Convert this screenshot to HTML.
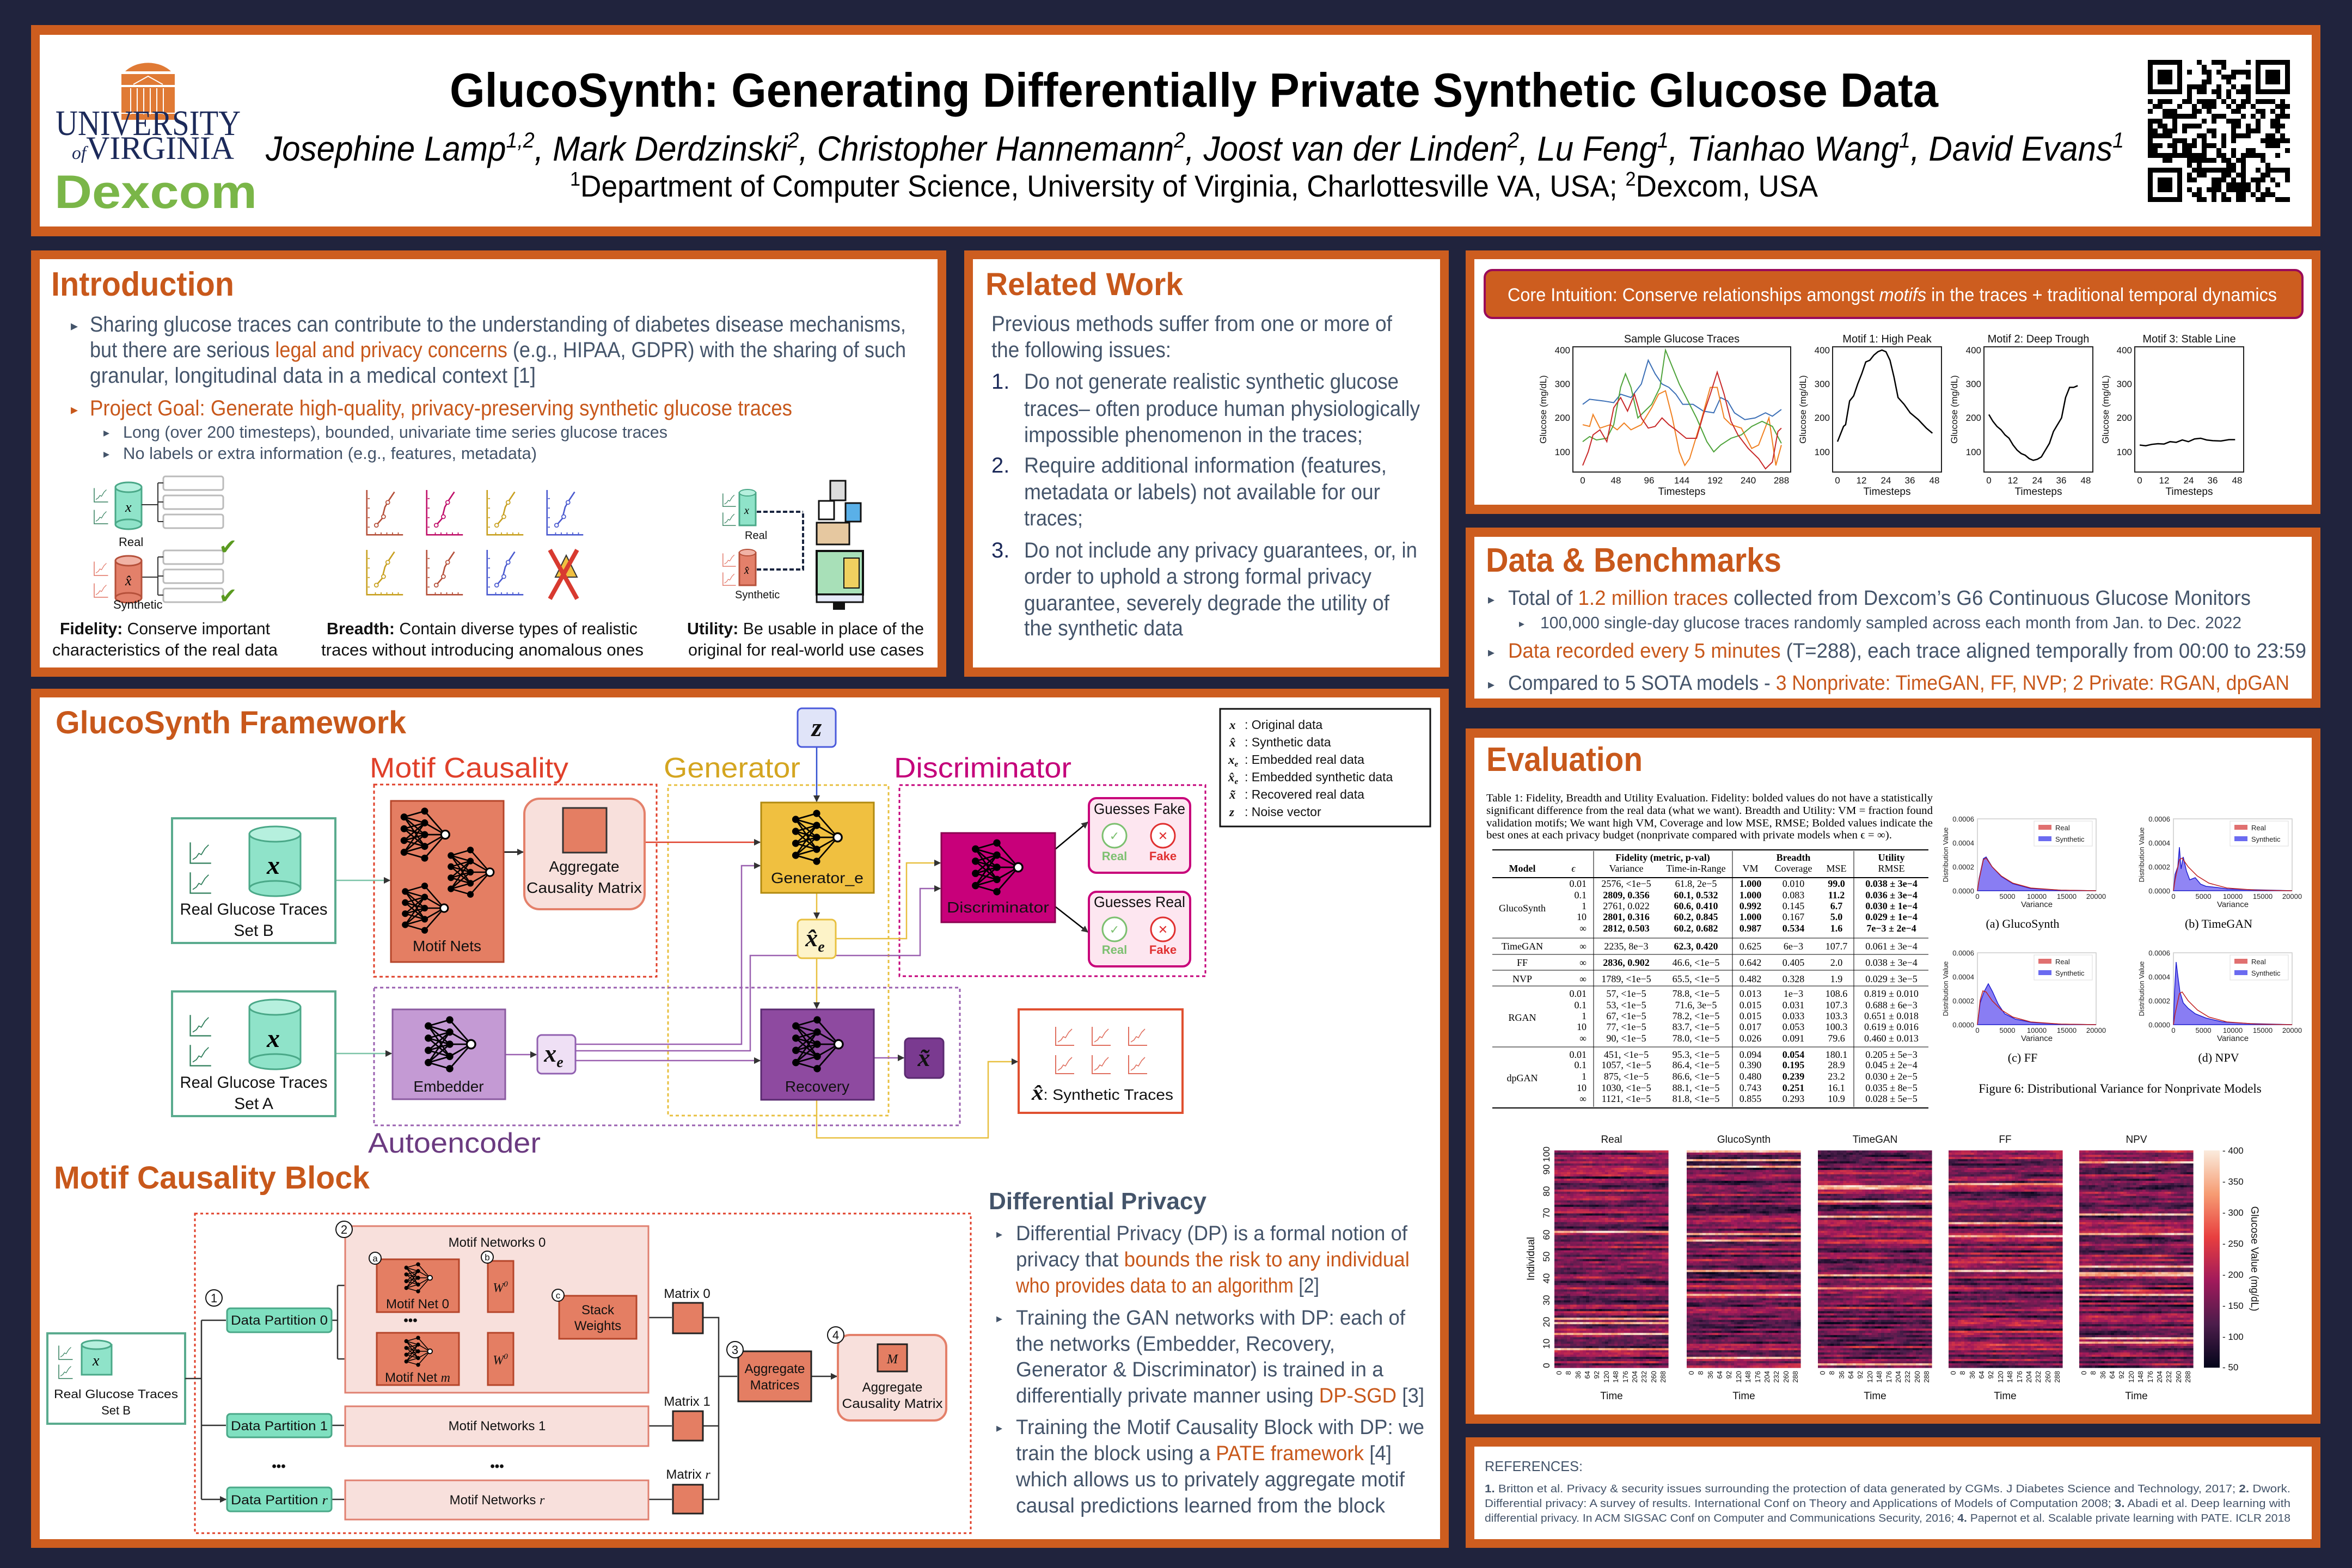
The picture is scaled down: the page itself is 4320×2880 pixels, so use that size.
<!DOCTYPE html>
<html><head><meta charset="utf-8"><style>
html,body{margin:0;padding:0;background:#20233d;}
svg{display:block;}
.b{font-family:"Liberation Sans",sans-serif;fill:#44546a;}
.s{font-family:"Liberation Serif",serif;fill:#000;}
.h{font-family:"Liberation Sans",sans-serif;font-weight:bold;fill:#c8581b;}
.o{fill:#c8581b;}
.k{font-family:"Liberation Sans",sans-serif;fill:#111;}
</style></head><body>
<svg width="4320" height="2880" viewBox="0 0 4320 2880" xmlns="http://www.w3.org/2000/svg">
<defs>
<marker id="ah" viewBox="0 0 10 10" refX="9" refY="5" markerWidth="5" markerHeight="5" orient="auto"><path d="M0,0L10,5L0,10z" fill="#333"/></marker>
<symbol id="nn" viewBox="0 0 100 100"><g stroke="#000" stroke-width="2.5" fill="none">
<path d="M15,20L50,30M15,20L50,50M15,20L50,70M15,40L50,30M15,40L50,50M15,40L50,70M15,60L50,30M15,60L50,50M15,60L50,70M15,80L50,30M15,80L50,50M15,80L50,70M50,30L85,50M50,50L85,50M50,70L85,50M15,20L50,10M15,80L50,90M50,10L85,50M50,90L85,50"/></g>
<g fill="#000"><circle cx="15" cy="20" r="6"/><circle cx="15" cy="40" r="6"/><circle cx="15" cy="60" r="6"/><circle cx="15" cy="80" r="6"/><circle cx="50" cy="10" r="6"/><circle cx="50" cy="30" r="6"/><circle cx="50" cy="50" r="6"/><circle cx="50" cy="70" r="6"/><circle cx="50" cy="90" r="6"/></g><circle cx="85" cy="50" r="7" fill="#fff" stroke="#000" stroke-width="3"/></symbol>
<symbol id="ch" viewBox="0 0 40 40"><path d="M4,2V36H38" fill="none" stroke="currentColor" stroke-width="2"/><path d="M8,30L14,26L18,20L22,22L28,12L34,6" fill="none" stroke="currentColor" stroke-width="1.6"/></symbol>
<symbol id="gr" viewBox="0 0 80 100"><path d="M2,2V96H78" fill="none" stroke="currentColor" stroke-width="3"/><path d="M4,20h4M4,40h4M4,60h4M4,80h4M20,96v-5M32,96v-5M44,96v-5M56,96v-5M68,96v-5" stroke="currentColor" stroke-width="2"/><path d="M22,76L34,62L40,38L48,24L60,6" fill="none" stroke="currentColor" stroke-width="3"/><circle cx="22" cy="76" r="4" fill="#fff" stroke="currentColor" stroke-width="2"/><circle cx="37" cy="58" r="4" fill="#fff" stroke="currentColor" stroke-width="2"/><circle cx="46" cy="28" r="4" fill="#fff" stroke="currentColor" stroke-width="2"/></symbol>
<linearGradient id="cb" x1="0" y1="0" x2="0" y2="1"><stop offset="0" stop-color="#faebdd"/><stop offset="0.2" stop-color="#f69c73"/><stop offset="0.4" stop-color="#e83f3f"/><stop offset="0.6" stop-color="#a11a5b"/><stop offset="0.8" stop-color="#4c1d4b"/><stop offset="1" stop-color="#03051a"/></linearGradient>
</defs>

<!-- panels -->
<g fill="#cd5d1f">
<rect x="57" y="46" width="4205" height="388"/>
<rect x="57" y="460" width="1681" height="783"/>
<rect x="1771" y="460" width="890" height="783"/>
<rect x="2692" y="460" width="1570" height="484"/>
<rect x="2692" y="969" width="1570" height="331"/>
<rect x="2692" y="1338" width="1570" height="1277"/>
<rect x="2692" y="2640" width="1570" height="203"/>
<rect x="57" y="1265" width="2604" height="1578"/>
</g>
<g fill="#fff">
<rect x="73" y="64" width="4173" height="352"/>
<rect x="73" y="476" width="1649" height="750"/>
<rect x="1787" y="476" width="858" height="750"/>
<rect x="2708" y="476" width="1538" height="451"/>
<rect x="2708" y="986" width="1538" height="297"/>
<rect x="2708" y="1355" width="1538" height="1243"/>
<rect x="2708" y="2657" width="1538" height="170"/>
<rect x="73" y="1281" width="2572" height="1546"/>
</g>

<!-- HEADER -->
<g>
<path d="M230,131 A53,40 0 0 1 314,131 Z" fill="#e07a35"/>
<rect x="223" y="136" width="98" height="20" fill="#e07a35"/>
<path d="M245,155 L272,140 L299,155" stroke="#fff" stroke-width="2" fill="none"/>
<rect x="223" y="160" width="98" height="60" fill="#e07a35"/>
<g stroke="#fff" stroke-width="2"><path d="M240,162V210M252,162V210M264,162V210M276,162V210M288,162V210M300,162V210M223,208H321"/></g>
<text x="102" y="248" font-family="Liberation Serif,serif" font-size="66" fill="#1c2a5a" textLength="340" lengthAdjust="spacingAndGlyphs">UNIVERSITY</text>
<text x="132" y="292" font-family="Liberation Serif,serif" font-size="60" fill="#1c2a5a" textLength="298" lengthAdjust="spacingAndGlyphs"><tspan font-size="34" font-style="italic">of</tspan>VIRGINIA</text>
<text x="100" y="382" font-family="Liberation Sans,sans-serif" font-weight="bold" font-size="86" fill="#7ab648" textLength="372" lengthAdjust="spacingAndGlyphs">Dexcom</text>
</g>
<text x="826" y="196" font-family="Liberation Sans,sans-serif" font-weight="bold" font-size="88" fill="#000" textLength="2734" lengthAdjust="spacingAndGlyphs">GlucoSynth: Generating Differentially Private Synthetic Glucose Data</text>
<text x="488" y="295" font-family="Liberation Sans,sans-serif" font-style="italic" font-size="64" fill="#000" textLength="3413" lengthAdjust="spacingAndGlyphs">Josephine Lamp<tspan font-size="40" dy="-24">1,2</tspan><tspan dy="24">, Mark Derdzinski</tspan><tspan font-size="40" dy="-24">2</tspan><tspan dy="24">, Christopher Hannemann</tspan><tspan font-size="40" dy="-24">2</tspan><tspan dy="24">, Joost van der Linden</tspan><tspan font-size="40" dy="-24">2</tspan><tspan dy="24">, Lu Feng</tspan><tspan font-size="40" dy="-24">1</tspan><tspan dy="24">, Tianhao Wang</tspan><tspan font-size="40" dy="-24">1</tspan><tspan dy="24">, David Evans</tspan><tspan font-size="40" dy="-24">1</tspan></text>
<text x="1047" y="361" font-family="Liberation Sans,sans-serif" font-size="56" fill="#000" textLength="2292" lengthAdjust="spacingAndGlyphs"><tspan font-size="36" dy="-20">1</tspan><tspan dy="20">Department of Computer Science, University of Virginia, Charlottesville VA, USA; </tspan><tspan font-size="36" dy="-20">2</tspan><tspan dy="20">Dexcom, USA</tspan></text>
<g id="qr"></g>

<!-- INTRO -->
<text x="94" y="543" class="h" font-size="62" textLength="336" lengthAdjust="spacingAndGlyphs">Introduction</text>
<g class="b" font-size="40">
<text x="130" y="607" font-size="26">▸</text>
<text x="165" y="609" textLength="1499" lengthAdjust="spacingAndGlyphs">Sharing glucose traces can contribute to the understanding of diabetes disease mechanisms,</text>
<text x="165" y="656" textLength="1499" lengthAdjust="spacingAndGlyphs">but there are serious <tspan class="o">legal and privacy concerns</tspan> (e.g., HIPAA, GDPR) with the sharing of such</text>
<text x="165" y="703" textLength="819" lengthAdjust="spacingAndGlyphs">granular, longitudinal data in a medical context [1]</text>
<text x="130" y="761" font-size="26" class="o">▸</text>
<text x="165" y="763" class="o" textLength="1290" lengthAdjust="spacingAndGlyphs">Project Goal: Generate high-quality, privacy-preserving synthetic glucose traces</text>
<text x="190" y="802" font-size="22">▸</text>
<text x="226" y="804" font-size="31" textLength="1000" lengthAdjust="spacingAndGlyphs">Long (over 200 timesteps), bounded, univariate time series glucose traces</text>
<text x="190" y="841" font-size="22">▸</text>
<text x="226" y="843" font-size="31" textLength="760" lengthAdjust="spacingAndGlyphs">No labels or extra information (e.g., features, metadata)</text>
</g>
<!-- intro icons -->
<g>
<use href="#ch" x="170" y="895" width="30" height="30" color="#2e7d5a"/><use href="#ch" x="170" y="935" width="30" height="30" color="#2e7d5a"/>
<rect x="212" y="895" width="48" height="68" fill="#8fe3c9" stroke="#4aa888" stroke-width="3"/><ellipse cx="236" cy="895" rx="24" ry="9" fill="#b6f0de" stroke="#4aa888" stroke-width="3"/><ellipse cx="236" cy="963" rx="24" ry="9" fill="#8fe3c9" stroke="#4aa888" stroke-width="3"/>
<text x="230" y="940" font-family="Liberation Serif,serif" font-style="italic" font-size="26">x</text>
<text x="218" y="1003" class="k" font-size="22">Real</text>
<g fill="#fff" stroke="#bbb" stroke-width="3"><rect x="300" y="875" width="110" height="25" rx="4"/><rect x="300" y="910" width="110" height="25" rx="4"/><rect x="300" y="945" width="110" height="25" rx="4"/><rect x="300" y="1011" width="110" height="25" rx="4"/><rect x="300" y="1046" width="110" height="25" rx="4"/><rect x="300" y="1081" width="110" height="25" rx="4"/></g>
<path d="M260,927H290M290,887V958M290,887H300M290,922H300M290,958H300M260,1060H290M290,1023V1093M290,1023H300M290,1058H300M290,1093H300" stroke="#333" stroke-width="2" fill="none"/>
<use href="#ch" x="170" y="1030" width="30" height="30" color="#e07060"/><use href="#ch" x="170" y="1070" width="30" height="30" color="#e07060"/>
<rect x="212" y="1030" width="48" height="68" fill="#e3806a" stroke="#b5503a" stroke-width="3"/><ellipse cx="236" cy="1030" rx="24" ry="9" fill="#f1b3a6" stroke="#b5503a" stroke-width="3"/><ellipse cx="236" cy="1098" rx="24" ry="9" fill="#e3806a" stroke="#b5503a" stroke-width="3"/>
<text x="230" y="1075" font-family="Liberation Serif,serif" font-style="italic" font-size="26">x̂</text>
<text x="208" y="1118" class="k" font-size="22">Synthetic</text>
<text x="402" y="1018" font-size="40" fill="#5a9a20">✔</text><text x="402" y="1108" font-size="40" fill="#5a9a20">✔</text>
<use href="#gr" x="672" y="898" width="70" height="88" color="#b5503a"/>
<use href="#gr" x="782" y="898" width="70" height="88" color="#c0106a"/>
<use href="#gr" x="893" y="898" width="70" height="88" color="#c8a020"/>
<use href="#gr" x="1003" y="898" width="70" height="88" color="#4a5ad0"/>
<use href="#gr" x="672" y="1008" width="70" height="88" color="#c8a020"/>
<use href="#gr" x="782" y="1008" width="70" height="88" color="#b5503a"/>
<use href="#gr" x="893" y="1008" width="70" height="88" color="#4a5ad0"/>
<path d="M1040,1020L1060,1060H1020Z" fill="#f0c040" stroke="#333" stroke-width="2"/>
<path d="M1010,1010L1060,1100M1060,1010L1010,1100" stroke="#d83a30" stroke-width="8"/>
<use href="#ch" x="1325" y="905" width="28" height="28" color="#2e7d5a"/><use href="#ch" x="1325" y="940" width="28" height="28" color="#2e7d5a"/>
<rect x="1358" y="905" width="30" height="60" fill="#8fe3c9" stroke="#4aa888" stroke-width="3"/><ellipse cx="1373" cy="905" rx="15" ry="6" fill="#b6f0de" stroke="#4aa888" stroke-width="2"/>
<text x="1367" y="944" font-family="Liberation Serif,serif" font-style="italic" font-size="20">x</text>
<text x="1368" y="990" class="k" font-size="20">Real</text>
<use href="#ch" x="1325" y="1015" width="28" height="28" color="#e07060"/><use href="#ch" x="1325" y="1050" width="28" height="28" color="#e07060"/>
<rect x="1358" y="1015" width="30" height="60" fill="#e3806a" stroke="#b5503a" stroke-width="3"/><ellipse cx="1373" cy="1015" rx="15" ry="6" fill="#f1b3a6" stroke="#b5503a" stroke-width="2"/>
<text x="1367" y="1054" font-family="Liberation Serif,serif" font-style="italic" font-size="20">x̂</text>
<text x="1350" y="1099" class="k" font-size="20">Synthetic</text>
<path d="M1390,940H1475M1390,1046H1475V940" stroke="#1a2540" stroke-width="4" fill="none" stroke-dasharray="8,4"/>
<rect x="1525" y="883" width="28" height="36" fill="#ddd" stroke="#111" stroke-width="3"/>
<rect x="1504" y="920" width="28" height="34" fill="#fff" stroke="#111" stroke-width="3"/>
<rect x="1553" y="924" width="28" height="34" fill="#5ab0e8" stroke="#111" stroke-width="3"/>
<rect x="1500" y="960" width="60" height="40" fill="#e6c8a0" stroke="#111" stroke-width="3"/>
<rect x="1500" y="1012" width="85" height="80" fill="#a8e0b8" stroke="#111" stroke-width="4"/>
<rect x="1550" y="1025" width="28" height="55" fill="#f0d060" stroke="#111" stroke-width="2"/>
<rect x="1500" y="1092" width="85" height="14" fill="#e6eaf8" stroke="#111" stroke-width="3"/>
<rect x="1530" y="1106" width="22" height="14" fill="#111"/>
</g>
<g class="k" font-size="31">
<text x="110" y="1165" textLength="386" lengthAdjust="spacingAndGlyphs"><tspan font-weight="bold">Fidelity:</tspan> Conserve important</text>
<text x="96" y="1204" textLength="414" lengthAdjust="spacingAndGlyphs">characteristics of the real data</text>
<text x="600" y="1165" textLength="571" lengthAdjust="spacingAndGlyphs"><tspan font-weight="bold">Breadth:</tspan> Contain diverse types of realistic</text>
<text x="590" y="1204" textLength="592" lengthAdjust="spacingAndGlyphs">traces without introducing anomalous ones</text>
<text x="1262" y="1165" textLength="435" lengthAdjust="spacingAndGlyphs"><tspan font-weight="bold">Utility:</tspan> Be usable in place of the</text>
<text x="1264" y="1204" textLength="433" lengthAdjust="spacingAndGlyphs">original for real-world use cases</text>
</g>

<!-- RELATED WORK -->
<text x="1810" y="542" class="h" font-size="58" textLength="363" lengthAdjust="spacingAndGlyphs">Related Work</text>
<g class="b" font-size="40">
<text x="1821" y="608" textLength="736" lengthAdjust="spacingAndGlyphs">Previous methods suffer from one or more of</text>
<text x="1821" y="656" textLength="330" lengthAdjust="spacingAndGlyphs">the following issues:</text>
<text x="1821" y="714" fill="#1c2a5a">1.</text>
<text x="1881" y="714" textLength="688" lengthAdjust="spacingAndGlyphs">Do not generate realistic synthetic glucose</text>
<text x="1881" y="764" textLength="727" lengthAdjust="spacingAndGlyphs">traces– often produce human physiologically</text>
<text x="1881" y="812" textLength="622" lengthAdjust="spacingAndGlyphs">impossible phenomenon in the traces;</text>
<text x="1821" y="868" fill="#1c2a5a">2.</text>
<text x="1881" y="868" textLength="666" lengthAdjust="spacingAndGlyphs">Require additional information (features,</text>
<text x="1881" y="917" textLength="654" lengthAdjust="spacingAndGlyphs">metadata or labels) not available for our</text>
<text x="1881" y="965" textLength="108" lengthAdjust="spacingAndGlyphs">traces;</text>
<text x="1821" y="1024" fill="#1c2a5a">3.</text>
<text x="1881" y="1024" textLength="722" lengthAdjust="spacingAndGlyphs">Do not include any privacy guarantees, or, in</text>
<text x="1881" y="1072" textLength="638" lengthAdjust="spacingAndGlyphs">order to uphold a strong formal privacy</text>
<text x="1881" y="1121" textLength="671" lengthAdjust="spacingAndGlyphs">guarantee, severely degrade the utility of</text>
<text x="1881" y="1167" textLength="292" lengthAdjust="spacingAndGlyphs">the synthetic data</text>
</g>

<!-- CORE INTUITION -->
<rect x="2727" y="496" width="1502" height="88" rx="14" fill="#cd5d1f" stroke="#9a0a5a" stroke-width="4"/>
<text x="2769" y="553" font-family="Liberation Sans,sans-serif" font-size="34" fill="#fff" textLength="1413" lengthAdjust="spacingAndGlyphs">Core Intuition: Conserve relationships amongst <tspan font-style="italic">motifs</tspan> in the traces + traditional temporal dynamics</text>
<g fill="none" stroke="#222" stroke-width="2">
<rect x="2889" y="637" width="400" height="230"/>
<rect x="3366" y="637" width="200" height="230"/>
<rect x="3644" y="637" width="200" height="230"/>
<rect x="3921" y="637" width="200" height="230"/>
</g>
<g class="k" font-size="17">
<text x="3089" y="629" text-anchor="middle" font-size="20">Sample Glucose Traces</text>
<text x="3466" y="629" text-anchor="middle" font-size="20">Motif 1: High Peak</text>
<text x="3744" y="629" text-anchor="middle" font-size="20">Motif 2: Deep Trough</text>
<text x="4021" y="629" text-anchor="middle" font-size="20">Motif 3: Stable Line</text>
<g text-anchor="end">
<text x="2884" y="649">400</text><text x="2884" y="711">300</text><text x="2884" y="773">200</text><text x="2884" y="836">100</text>
<text x="3361" y="649">400</text><text x="3361" y="711">300</text><text x="3361" y="773">200</text><text x="3361" y="836">100</text>
<text x="3639" y="649">400</text><text x="3639" y="711">300</text><text x="3639" y="773">200</text><text x="3639" y="836">100</text>
<text x="3916" y="649">400</text><text x="3916" y="711">300</text><text x="3916" y="773">200</text><text x="3916" y="836">100</text>
</g>
<g text-anchor="middle">
<text x="2907" y="888">0</text><text x="2968" y="888">48</text><text x="3029" y="888">96</text><text x="3089" y="888">144</text><text x="3150" y="888">192</text><text x="3211" y="888">240</text><text x="3272" y="888">288</text>
<text x="3375" y="888">0</text><text x="3419" y="888">12</text><text x="3464" y="888">24</text><text x="3508" y="888">36</text><text x="3553" y="888">48</text>
<text x="3653" y="888">0</text><text x="3697" y="888">12</text><text x="3742" y="888">24</text><text x="3786" y="888">36</text><text x="3831" y="888">48</text>
<text x="3930" y="888">0</text><text x="3975" y="888">12</text><text x="4020" y="888">24</text><text x="4064" y="888">36</text><text x="4109" y="888">48</text>
<text x="3089" y="909" font-size="19">Timesteps</text><text x="3466" y="909" font-size="19">Timesteps</text><text x="3744" y="909" font-size="19">Timesteps</text><text x="4021" y="909" font-size="19">Timesteps</text>
<text transform="translate(2840,752) rotate(-90)" font-size="17">Glucose (mg/dL)</text>
<text transform="translate(3317,752) rotate(-90)" font-size="17">Glucose (mg/dL)</text>
<text transform="translate(3595,752) rotate(-90)" font-size="17">Glucose (mg/dL)</text>
<text transform="translate(3873,752) rotate(-90)" font-size="17">Glucose (mg/dL)</text>
</g></g>
<g transform="translate(2907,643) scale(1.267,0.623)" fill="none" stroke-width="2">
<polyline vector-effect="non-scaling-stroke" stroke="#3b6fb6" points="0,160 10,145 30,150 45,155 55,130 70,140 85,100 95,30 105,70 115,100 125,110 135,130 145,160 160,160 175,180 190,185 200,140 210,150 220,185 235,205 250,200 265,185 275,195 288,175"/>
<polyline vector-effect="non-scaling-stroke" stroke="#f08020" points="0,220 10,225 15,190 25,230 40,220 50,235 60,215 70,235 85,220 100,170 110,130 120,120 130,200 140,300 148,340 155,320 170,220 185,110 195,110 205,200 215,220 230,230 245,290 255,280 270,200 280,340 288,280"/>
<polyline vector-effect="non-scaling-stroke" stroke="#4ea33a" points="0,270 10,255 20,265 35,260 45,220 55,110 62,70 70,110 80,200 90,180 100,160 112,110 120,0 130,50 140,100 150,140 165,200 180,270 190,300 200,280 215,260 230,250 245,225 260,210 275,225 288,275"/>
<polyline vector-effect="non-scaling-stroke" stroke="#c82828" points="0,340 8,300 15,250 25,235 35,270 45,170 55,140 65,180 75,130 85,200 95,230 105,225 115,200 125,220 135,235 150,260 165,260 175,190 185,130 195,65 205,130 215,210 225,250 240,290 255,320 265,350 275,330 283,240 288,230"/>
</g>
<g fill="none" stroke="#000" stroke-width="2.5">
<polyline vector-effect="non-scaling-stroke" transform="translate(3375,643) scale(3.708,0.623)" points="0,270 3,225 4,220 6,150 8,135 10,100 12,70 14,35 16,30 18,15 20,5 22,0 24,5 26,30 28,80 30,140 33,160 36,185 40,205 44,230 47,245"/>
<polyline vector-effect="non-scaling-stroke" transform="translate(3653,643) scale(3.708,0.623)" points="0,190 2,210 4,225 6,235 8,250 10,260 12,280 14,295 16,305 18,310 20,320 22,325 24,322 26,315 28,295 30,275 32,240 34,220 36,200 38,140 40,110 42,110 44,105"/>
<polyline vector-effect="non-scaling-stroke" transform="translate(3930,643) scale(3.73,0.623)" points="0,280 3,282 6,278 9,276 12,277 15,270 18,272 21,265 24,270 27,262 30,260 33,265 36,267 40,268 44,264 47,264"/>
</g>

<!-- DATA & BENCHMARKS -->
<text x="2729" y="1050" class="h" font-size="62" textLength="543" lengthAdjust="spacingAndGlyphs">Data &amp; Benchmarks</text>
<g class="b" font-size="38">
<text x="2733" y="1109" font-size="24">▸</text>
<text x="2770" y="1111" textLength="1364" lengthAdjust="spacingAndGlyphs">Total of <tspan class="o">1.2 million traces</tspan> collected from Dexcom’s G6 Continuous Glucose Monitors</text>
<text x="2790" y="1152" font-size="20">▸</text>
<text x="2829" y="1154" font-size="31" textLength="1288" lengthAdjust="spacingAndGlyphs">100,000 single-day glucose traces randomly sampled across each month from Jan. to Dec. 2022</text>
<text x="2733" y="1206" font-size="24">▸</text>
<text x="2770" y="1208" textLength="1466" lengthAdjust="spacingAndGlyphs"><tspan class="o">Data recorded every 5 minutes</tspan> (T=288), each trace aligned temporally from 00:00 to 23:59</text>
<text x="2733" y="1265" font-size="24">▸</text>
<text x="2770" y="1267" textLength="1435" lengthAdjust="spacingAndGlyphs">Compared to 5 SOTA models - <tspan class="o">3 Nonprivate: TimeGAN, FF, NVP; 2 Private: RGAN, dpGAN</tspan></text>
</g>

<!-- EVALUATION -->
<text x="2730" y="1416" class="h" font-size="62" textLength="287" lengthAdjust="spacingAndGlyphs">Evaluation</text>
<g class="s" font-size="20">
<text x="2730" y="1472" textLength="820" lengthAdjust="spacingAndGlyphs">Table 1: Fidelity, Breadth and Utility Evaluation. Fidelity: bolded values do not have a statistically</text>
<text x="2730" y="1495" textLength="820" lengthAdjust="spacingAndGlyphs">significant difference from the real data (what we want). Breadth and Utility: VM = fraction found</text>
<text x="2730" y="1518" textLength="820" lengthAdjust="spacingAndGlyphs">validation motifs; We want high VM, Coverage and low MSE, RMSE; Bolded values indicate the</text>
<text x="2730" y="1540" textLength="745" lengthAdjust="spacingAndGlyphs">best ones at each privacy budget (nonprivate compared with private models when ϵ = ∞).</text>
</g>
<g stroke="#000">
<path d="M2741,1561H3542M2741,1612H3542M2741,2035H3542" stroke-width="2"/>
<path d="M2741,1723H3542M2741,1753H3542M2741,1782H3542M2741,1811H3542M2741,1923H3542" stroke-width="1"/>
<path d="M2927,1563V1721M3182,1563V1721M3405,1563V1721M2927,1617V2033M3182,1617V2033M3405,1617V2033" stroke-width="1"/>
</g>
<g class="s" font-size="18" text-anchor="middle">
<text x="3054" y="1581" font-weight="bold">Fidelity (metric, p-val)</text>
<text x="3294" y="1581" font-weight="bold">Breadth</text>
<text x="3474" y="1581" font-weight="bold">Utility</text>
<text x="2796" y="1601" font-weight="bold">Model</text><text x="2890" y="1601" font-style="italic">ϵ</text>
<text x="2987" y="1601">Variance</text><text x="3115" y="1601">Time-in-Range</text><text x="3215" y="1601">VM</text><text x="3294" y="1601">Coverage</text><text x="3373" y="1601">MSE</text><text x="3474" y="1601">RMSE</text>
<text x="2796" y="1674">GlucoSynth</text><text x="2796" y="1744">TimeGAN</text><text x="2796" y="1774">FF</text><text x="2796" y="1804">NVP</text><text x="2796" y="1875">RGAN</text><text x="2796" y="1986">dpGAN</text>
</g>
<g class="s" font-size="18">
<g text-anchor="end">
<text x="2914" y="1629">0.01</text><text x="2914" y="1650">0.1</text><text x="2914" y="1670">1</text><text x="2914" y="1690">10</text><text x="2914" y="1711">∞</text>
<text x="2914" y="1744">∞</text><text x="2914" y="1774">∞</text><text x="2914" y="1804">∞</text>
<text x="2914" y="1831">0.01</text><text x="2914" y="1852">0.1</text><text x="2914" y="1872">1</text><text x="2914" y="1892">10</text><text x="2914" y="1913">∞</text>
<text x="2914" y="1943">0.01</text><text x="2914" y="1962">0.1</text><text x="2914" y="1983">1</text><text x="2914" y="2004">10</text><text x="2914" y="2024">∞</text>
</g>
<g text-anchor="middle">
<text x="2987" y="1629">2576, &lt;1e−5</text><text x="3115" y="1629">61.8, 2e−5</text><text x="3215" y="1629" font-weight="bold">1.000</text><text x="3294" y="1629">0.010</text><text x="3373" y="1629" font-weight="bold">99.0</text><text x="3474" y="1629" font-weight="bold">0.038 ± 3e−4</text>
<g font-weight="bold"><text x="2987" y="1650">2809, 0.356</text><text x="3115" y="1650">60.1, 0.532</text><text x="3215" y="1650">1.000</text><text x="3373" y="1650">11.2</text><text x="3474" y="1650">0.036 ± 3e−4</text></g><text x="3294" y="1650">0.083</text>
<text x="2987" y="1670">2761, 0.022</text><g font-weight="bold"><text x="3115" y="1670">60.6, 0.410</text><text x="3215" y="1670">0.992</text><text x="3373" y="1670">6.7</text><text x="3474" y="1670">0.030 ± 1e−4</text></g><text x="3294" y="1670">0.145</text>
<g font-weight="bold"><text x="2987" y="1690">2801, 0.316</text><text x="3115" y="1690">60.2, 0.845</text><text x="3215" y="1690">1.000</text><text x="3373" y="1690">5.0</text><text x="3474" y="1690">0.029 ± 1e−4</text></g><text x="3294" y="1690">0.167</text>
<g font-weight="bold"><text x="2987" y="1711">2812, 0.503</text><text x="3115" y="1711">60.2, 0.682</text><text x="3215" y="1711">0.987</text><text x="3294" y="1711">0.534</text><text x="3373" y="1711">1.6</text><text x="3474" y="1711">7e−3 ± 2e−4</text></g>
<text x="2987" y="1744">2235, 8e−3</text><text x="3115" y="1744" font-weight="bold">62.3, 0.420</text><text x="3215" y="1744">0.625</text><text x="3294" y="1744">6e−3</text><text x="3373" y="1744">107.7</text><text x="3474" y="1744">0.061 ± 3e−4</text>
<text x="2987" y="1774" font-weight="bold">2836, 0.902</text><text x="3115" y="1774">46.6, &lt;1e−5</text><text x="3215" y="1774">0.642</text><text x="3294" y="1774">0.405</text><text x="3373" y="1774">2.0</text><text x="3474" y="1774">0.038 ± 3e−4</text>
<text x="2987" y="1804">1789, &lt;1e−5</text><text x="3115" y="1804">65.5, &lt;1e−5</text><text x="3215" y="1804">0.482</text><text x="3294" y="1804">0.328</text><text x="3373" y="1804">1.9</text><text x="3474" y="1804">0.029 ± 3e−5</text>
<text x="2987" y="1831">57, &lt;1e−5</text><text x="3115" y="1831">78.8, &lt;1e−5</text><text x="3215" y="1831">0.013</text><text x="3294" y="1831">1e−3</text><text x="3373" y="1831">108.6</text><text x="3474" y="1831">0.819 ± 0.010</text>
<text x="2987" y="1852">53, &lt;1e−5</text><text x="3115" y="1852">71.6, 3e−5</text><text x="3215" y="1852">0.015</text><text x="3294" y="1852">0.031</text><text x="3373" y="1852">107.3</text><text x="3474" y="1852">0.688 ± 6e−3</text>
<text x="2987" y="1872">67, &lt;1e−5</text><text x="3115" y="1872">78.2, &lt;1e−5</text><text x="3215" y="1872">0.015</text><text x="3294" y="1872">0.033</text><text x="3373" y="1872">103.3</text><text x="3474" y="1872">0.651 ± 0.018</text>
<text x="2987" y="1892">77, &lt;1e−5</text><text x="3115" y="1892">83.7, &lt;1e−5</text><text x="3215" y="1892">0.017</text><text x="3294" y="1892">0.053</text><text x="3373" y="1892">100.3</text><text x="3474" y="1892">0.619 ± 0.016</text>
<text x="2987" y="1913">90, &lt;1e−5</text><text x="3115" y="1913">78.0, &lt;1e−5</text><text x="3215" y="1913">0.026</text><text x="3294" y="1913">0.091</text><text x="3373" y="1913">79.6</text><text x="3474" y="1913">0.460 ± 0.013</text>
<text x="2987" y="1943">451, &lt;1e−5</text><text x="3115" y="1943">95.3, &lt;1e−5</text><text x="3215" y="1943">0.094</text><text x="3294" y="1943" font-weight="bold">0.054</text><text x="3373" y="1943">180.1</text><text x="3474" y="1943">0.205 ± 5e−3</text>
<text x="2987" y="1962">1057, &lt;1e−5</text><text x="3115" y="1962">86.4, &lt;1e−5</text><text x="3215" y="1962">0.390</text><text x="3294" y="1962" font-weight="bold">0.195</text><text x="3373" y="1962">28.9</text><text x="3474" y="1962">0.045 ± 2e−4</text>
<text x="2987" y="1983">875, &lt;1e−5</text><text x="3115" y="1983">86.6, &lt;1e−5</text><text x="3215" y="1983">0.480</text><text x="3294" y="1983" font-weight="bold">0.239</text><text x="3373" y="1983">23.2</text><text x="3474" y="1983">0.030 ± 2e−5</text>
<text x="2987" y="2004">1030, &lt;1e−5</text><text x="3115" y="2004">88.1, &lt;1e−5</text><text x="3215" y="2004">0.743</text><text x="3294" y="2004" font-weight="bold">0.251</text><text x="3373" y="2004">16.1</text><text x="3474" y="2004">0.035 ± 8e−5</text>
<text x="2987" y="2024">1121, &lt;1e−5</text><text x="3115" y="2024">81.8, &lt;1e−5</text><text x="3215" y="2024">0.855</text><text x="3294" y="2024">0.293</text><text x="3373" y="2024">10.9</text><text x="3474" y="2024">0.028 ± 5e−5</text>
</g></g>

<!-- distribution plots -->
<g id="dist">
<g transform="translate(3632,1636)">
<rect x="0" y="-132" width="218" height="132" fill="none" stroke="#ccc" stroke-width="1.5"/>
<polygon points="0,0 3,-22 11,-59 16,-62 27,-44 44,-26 65,-13 98,-4 153,-1 218,0" fill="#6b5cf0" fill-opacity="0.8" stroke="#2020d0" stroke-width="1.5"/>
<polyline points="0,0 3,-20 11,-57 16,-60 27,-44 44,-27 65,-14 98,-5 153,-1 218,0" fill="none" stroke="#c02020" stroke-width="1.5"/>
</g>
<g transform="translate(3992,1636)">
<rect x="0" y="-132" width="218" height="132" fill="none" stroke="#ccc" stroke-width="1.5"/>
<polygon points="0,0 3,-30 8,-44 11,-80 14,-40 18,-62 24,-36 30,-20 40,-24 50,-12 60,-8 80,-6 100,-3 140,-2 218,0" fill="#6b5cf0" fill-opacity="0.75" stroke="#2020d0" stroke-width="1.5"/>
<polyline points="0,0 3,-20 11,-57 16,-60 27,-44 44,-27 65,-14 98,-5 153,-1 218,0" fill="none" stroke="#c02020" stroke-width="1.5"/>
</g>
<g transform="translate(3632,1882)">
<rect x="0" y="-132" width="218" height="132" fill="none" stroke="#ccc" stroke-width="1.5"/>
<polygon points="0,0 5,-40 12,-60 20,-75 28,-60 38,-38 50,-20 70,-10 100,-4 153,-1 218,0" fill="#6b5cf0" fill-opacity="0.8" stroke="#2020d0" stroke-width="1.5"/>
<polyline points="0,0 5,-45 10,-62 16,-60 27,-44 44,-27 65,-14 98,-5 153,-1 218,0" fill="none" stroke="#c02020" stroke-width="1.5"/>
</g>
<g transform="translate(3992,1882)">
<rect x="0" y="-132" width="218" height="132" fill="none" stroke="#ccc" stroke-width="1.5"/>
<polygon points="0,0 2,-60 5,-115 8,-90 12,-60 18,-40 27,-30 40,-20 60,-12 90,-5 140,-2 218,0" fill="#6b5cf0" fill-opacity="0.8" stroke="#2020d0" stroke-width="1.5"/>
<polyline points="0,0 3,-20 11,-57 16,-60 27,-44 44,-27 65,-14 98,-5 153,-1 218,0" fill="none" stroke="#c02020" stroke-width="1.5"/>
</g>
</g>
<g font-family="Liberation Sans,sans-serif" font-size="13" fill="#222">
<g text-anchor="end">
<text x="3626" y="1509">0.0006</text><text x="3626" y="1553">0.0004</text><text x="3626" y="1597">0.0002</text><text x="3626" y="1641">0.0000</text>
<text x="3986" y="1509">0.0006</text><text x="3986" y="1553">0.0004</text><text x="3986" y="1597">0.0002</text><text x="3986" y="1641">0.0000</text>
<text x="3626" y="1755">0.0006</text><text x="3626" y="1799">0.0004</text><text x="3626" y="1843">0.0002</text><text x="3626" y="1887">0.0000</text>
<text x="3986" y="1755">0.0006</text><text x="3986" y="1799">0.0004</text><text x="3986" y="1843">0.0002</text><text x="3986" y="1887">0.0000</text>
</g>
<g text-anchor="middle">
<text x="3632" y="1651">0</text><text x="3687" y="1651">5000</text><text x="3741" y="1651">10000</text><text x="3796" y="1651">15000</text><text x="3850" y="1651">20000</text>
<text x="3992" y="1651">0</text><text x="4047" y="1651">5000</text><text x="4101" y="1651">10000</text><text x="4156" y="1651">15000</text><text x="4210" y="1651">20000</text>
<text x="3632" y="1897">0</text><text x="3687" y="1897">5000</text><text x="3741" y="1897">10000</text><text x="3796" y="1897">15000</text><text x="3850" y="1897">20000</text>
<text x="3992" y="1897">0</text><text x="4047" y="1897">5000</text><text x="4101" y="1897">10000</text><text x="4156" y="1897">15000</text><text x="4210" y="1897">20000</text>
<text x="3741" y="1666" font-size="15">Variance</text><text x="4101" y="1666" font-size="15">Variance</text><text x="3741" y="1912" font-size="15">Variance</text><text x="4101" y="1912" font-size="15">Variance</text>
<text transform="translate(3578,1570) rotate(-90)" font-size="13">Distribution Value</text><text transform="translate(3938,1570) rotate(-90)" font-size="13">Distribution Value</text>
<text transform="translate(3578,1816) rotate(-90)" font-size="13">Distribution Value</text><text transform="translate(3938,1816) rotate(-90)" font-size="13">Distribution Value</text>
</g>
<g>
<rect x="3736" y="1508" width="107" height="46" fill="#fff" stroke="#ddd"/><rect x="3744" y="1515" width="24" height="9" fill="#e07070"/><rect x="3744" y="1536" width="24" height="9" fill="#6b6bf0"/><text x="3775" y="1525">Real</text><text x="3775" y="1546">Synthetic</text>
<rect x="4096" y="1508" width="107" height="46" fill="#fff" stroke="#ddd"/><rect x="4104" y="1515" width="24" height="9" fill="#e07070"/><rect x="4104" y="1536" width="24" height="9" fill="#6b6bf0"/><text x="4135" y="1525">Real</text><text x="4135" y="1546">Synthetic</text>
<rect x="3736" y="1754" width="107" height="46" fill="#fff" stroke="#ddd"/><rect x="3744" y="1761" width="24" height="9" fill="#e07070"/><rect x="3744" y="1782" width="24" height="9" fill="#6b6bf0"/><text x="3775" y="1771">Real</text><text x="3775" y="1792">Synthetic</text>
<rect x="4096" y="1754" width="107" height="46" fill="#fff" stroke="#ddd"/><rect x="4104" y="1761" width="24" height="9" fill="#e07070"/><rect x="4104" y="1782" width="24" height="9" fill="#6b6bf0"/><text x="4135" y="1771">Real</text><text x="4135" y="1792">Synthetic</text>
</g></g>
<g class="s" font-size="22" text-anchor="middle">
<text x="3715" y="1704">(a) GlucoSynth</text><text x="4075" y="1704">(b) TimeGAN</text>
<text x="3715" y="1950">(c) FF</text><text x="4075" y="1950">(d) NPV</text>
<text x="3894" y="2007" font-size="23">Figure 6: Distributional Variance for Nonprivate Models</text>
</g>

<!-- heatmaps -->
<g id="hmaps"></g>
<rect x="4048" y="2113" width="29" height="399" fill="url(#cb)"/>
<g font-family="Liberation Sans,sans-serif" font-size="19" fill="#111">
<g text-anchor="middle">
<text x="2960" y="2099">Real</text><text x="3203" y="2099">GlucoSynth</text><text x="3444" y="2099">TimeGAN</text><text x="3683" y="2099">FF</text><text x="3924" y="2099">NPV</text>
<text x="2960" y="2570">Time</text><text x="3203" y="2570">Time</text><text x="3444" y="2570">Time</text><text x="3683" y="2570">Time</text><text x="3924" y="2570">Time</text>
<text transform="translate(2818,2312) rotate(-90)">Individual</text>
<text transform="translate(4135,2312) rotate(90)">Glucose Value (mg/dL)</text>
</g>
<g font-size="17">
<text x="4082" y="2119">- 400</text><text x="4082" y="2176">- 350</text><text x="4082" y="2233">- 300</text><text x="4082" y="2290">- 250</text><text x="4082" y="2347">- 200</text><text x="4082" y="2404">- 150</text><text x="4082" y="2461">- 100</text><text x="4082" y="2517">- 50</text>
</g>
<g font-size="17" text-anchor="middle" id="yt">
<text transform="translate(2846,2508) rotate(-90)">0</text><text transform="translate(2846,2468) rotate(-90)">10</text><text transform="translate(2846,2428) rotate(-90)">20</text><text transform="translate(2846,2388) rotate(-90)">30</text><text transform="translate(2846,2348) rotate(-90)">40</text><text transform="translate(2846,2308) rotate(-90)">50</text><text transform="translate(2846,2268) rotate(-90)">60</text><text transform="translate(2846,2228) rotate(-90)">70</text><text transform="translate(2846,2188) rotate(-90)">80</text><text transform="translate(2846,2148) rotate(-90)">90</text><text transform="translate(2846,2120) rotate(-90)">100</text>
</g>
<g font-size="13" text-anchor="end">
<g transform="translate(2855,2518)"><text transform="translate(13,0) rotate(-90)">0</text><text transform="translate(30,0) rotate(-90)">8</text><text transform="translate(48,0) rotate(-90)">36</text><text transform="translate(65,0) rotate(-90)">64</text><text transform="translate(82,0) rotate(-90)">92</text><text transform="translate(100,0) rotate(-90)">120</text><text transform="translate(117,0) rotate(-90)">148</text><text transform="translate(135,0) rotate(-90)">176</text><text transform="translate(152,0) rotate(-90)">204</text><text transform="translate(169,0) rotate(-90)">232</text><text transform="translate(187,0) rotate(-90)">260</text><text transform="translate(204,0) rotate(-90)">288</text></g>
<g transform="translate(3098,2518)"><text transform="translate(13,0) rotate(-90)">0</text><text transform="translate(30,0) rotate(-90)">8</text><text transform="translate(48,0) rotate(-90)">36</text><text transform="translate(65,0) rotate(-90)">64</text><text transform="translate(82,0) rotate(-90)">92</text><text transform="translate(100,0) rotate(-90)">120</text><text transform="translate(117,0) rotate(-90)">148</text><text transform="translate(135,0) rotate(-90)">176</text><text transform="translate(152,0) rotate(-90)">204</text><text transform="translate(169,0) rotate(-90)">232</text><text transform="translate(187,0) rotate(-90)">260</text><text transform="translate(204,0) rotate(-90)">288</text></g>
<g transform="translate(3339,2518)"><text transform="translate(13,0) rotate(-90)">0</text><text transform="translate(30,0) rotate(-90)">8</text><text transform="translate(48,0) rotate(-90)">36</text><text transform="translate(65,0) rotate(-90)">64</text><text transform="translate(82,0) rotate(-90)">92</text><text transform="translate(100,0) rotate(-90)">120</text><text transform="translate(117,0) rotate(-90)">148</text><text transform="translate(135,0) rotate(-90)">176</text><text transform="translate(152,0) rotate(-90)">204</text><text transform="translate(169,0) rotate(-90)">232</text><text transform="translate(187,0) rotate(-90)">260</text><text transform="translate(204,0) rotate(-90)">288</text></g>
<g transform="translate(3579,2518)"><text transform="translate(13,0) rotate(-90)">0</text><text transform="translate(30,0) rotate(-90)">8</text><text transform="translate(48,0) rotate(-90)">36</text><text transform="translate(65,0) rotate(-90)">64</text><text transform="translate(82,0) rotate(-90)">92</text><text transform="translate(100,0) rotate(-90)">120</text><text transform="translate(117,0) rotate(-90)">148</text><text transform="translate(135,0) rotate(-90)">176</text><text transform="translate(152,0) rotate(-90)">204</text><text transform="translate(169,0) rotate(-90)">232</text><text transform="translate(187,0) rotate(-90)">260</text><text transform="translate(204,0) rotate(-90)">288</text></g>
<g transform="translate(3819,2518)"><text transform="translate(13,0) rotate(-90)">0</text><text transform="translate(30,0) rotate(-90)">8</text><text transform="translate(48,0) rotate(-90)">36</text><text transform="translate(65,0) rotate(-90)">64</text><text transform="translate(82,0) rotate(-90)">92</text><text transform="translate(100,0) rotate(-90)">120</text><text transform="translate(117,0) rotate(-90)">148</text><text transform="translate(135,0) rotate(-90)">176</text><text transform="translate(152,0) rotate(-90)">204</text><text transform="translate(169,0) rotate(-90)">232</text><text transform="translate(187,0) rotate(-90)">260</text><text transform="translate(204,0) rotate(-90)">288</text></g>
</g></g>

<!-- REFERENCES -->
<g class="b" font-size="20">
<text x="2727" y="2702" font-size="26" textLength="180" lengthAdjust="spacingAndGlyphs">REFERENCES:</text>
<text x="2727" y="2741" textLength="1480" lengthAdjust="spacingAndGlyphs"><tspan font-weight="bold">1.</tspan> Britton et al. Privacy &amp; security issues surrounding the protection of data generated by CGMs. J Diabetes Science and Technology, 2017; <tspan font-weight="bold">2.</tspan> Dwork.</text>
<text x="2727" y="2768" textLength="1480" lengthAdjust="spacingAndGlyphs">Differential privacy: A survey of results. International Conf on Theory and Applications of Models of Computation 2008; <tspan font-weight="bold">3.</tspan> Abadi et al. Deep learning with</text>
<text x="2727" y="2795" textLength="1480" lengthAdjust="spacingAndGlyphs">differential privacy. In ACM SIGSAC Conf on Computer and Communications Security, 2016; <tspan font-weight="bold">4.</tspan> Papernot et al. Scalable private learning with PATE. ICLR 2018</text>
</g>

<!-- FRAMEWORK -->
<text x="102" y="1347" class="h" font-size="58" textLength="644" lengthAdjust="spacingAndGlyphs">GlucoSynth Framework</text>
<g font-family="Liberation Sans,sans-serif" font-size="52">
<text x="679" y="1428" fill="#e0402a" textLength="365" lengthAdjust="spacingAndGlyphs">Motif Causality</text>
<text x="1219" y="1428" fill="#d4a520" textLength="251" lengthAdjust="spacingAndGlyphs">Generator</text>
<text x="1642" y="1428" fill="#c4007a" textLength="326" lengthAdjust="spacingAndGlyphs">Discriminator</text>
<text x="676" y="2117" fill="#6b3a80" textLength="317" lengthAdjust="spacingAndGlyphs">Autoencoder</text>
</g>
<rect x="2241" y="1302" width="386" height="216" fill="#fff" stroke="#111" stroke-width="3"/>
<g font-family="Liberation Sans,sans-serif" font-size="23" fill="#111">
<g font-family="Liberation Serif,serif" font-style="italic" font-weight="bold"><text x="2258" y="1339">x</text><text x="2258" y="1371">x̂</text><text x="2256" y="1403">x<tspan font-size="15" dy="5">e</tspan></text><text x="2256" y="1435">x̂<tspan font-size="15" dy="5">e</tspan></text><text x="2258" y="1467">x̃</text><text x="2258" y="1499">z</text></g>
<text x="2286" y="1339">: Original data</text><text x="2286" y="1371">: Synthetic data</text><text x="2286" y="1403">: Embedded real data</text><text x="2286" y="1435">: Embedded synthetic data</text><text x="2286" y="1467">: Recovered real data</text><text x="2286" y="1499">: Noise vector</text>
</g>
<g fill="none" stroke-width="3" stroke-dasharray="6,5">
<rect x="687" y="1441" width="519" height="353" stroke="#e0402a"/>
<rect x="1227" y="1442" width="405" height="607" stroke="#e8c040"/>
<rect x="1652" y="1442" width="562" height="351" stroke="#c4007a"/>
<rect x="687" y="1814" width="1076" height="253" stroke="#9a60b0"/>
</g>
<!-- connectors -->
<g fill="none" stroke-width="2.5" marker-end="url(#ah)">
<path d="M616,1617H716" stroke="#7cc4a8"/>
<path d="M616,1935H719" stroke="#7cc4a8"/>
<path d="M925,1565H961" stroke="#000"/>
<path d="M1184,1547H1396" stroke="#e0402a"/>
<path d="M1500,1372V1472" stroke="#3050d0"/>
<path d="M1500,1640V1687" stroke="#e8c040"/>
<path d="M1535,1724H1665V1585H1727" stroke="#e8c040"/>
<path d="M1500,1760V1852" stroke="#e8c040"/>
<path d="M928,1937H985" stroke="#9a60b0"/>
<path d="M1057,1918H1362V1590H1396" stroke="#9a60b0"/>
<path d="M1057,1930H1378V1755H1690V1632H1727" stroke="#9a60b0"/>
<path d="M1057,1948H1396" stroke="#9a60b0"/>
<path d="M1605,1943H1660" stroke="#9a60b0"/>
<path d="M1500,2020V2090H1815V1950H1869" stroke="#e8c040"/>
<path d="M1938,1560L1998,1510" stroke="#000"/>
<path d="M1938,1665L1998,1712" stroke="#000"/>
</g>
<!-- boxes -->
<rect x="316" y="1503" width="300" height="229" fill="#fff" stroke="#5aab8e" stroke-width="4"/>
<rect x="316" y="1821" width="300" height="229" fill="#fff" stroke="#5aab8e" stroke-width="4"/>
<g>
<use href="#ch" x="345" y="1545" width="45" height="45" color="#2e7d5a"/><use href="#ch" x="345" y="1600" width="45" height="45" color="#2e7d5a"/>
<rect x="458" y="1532" width="94" height="100" fill="#8fe3c9" stroke="#4aa888" stroke-width="3"/><ellipse cx="505" cy="1532" rx="47" ry="14" fill="#b6f0de" stroke="#4aa888" stroke-width="3"/><ellipse cx="505" cy="1632" rx="47" ry="14" fill="#8fe3c9" stroke="#4aa888" stroke-width="3"/>
<text x="490" y="1605" font-family="Liberation Serif,serif" font-style="italic" font-weight="bold" font-size="48">x</text>
<use href="#ch" x="345" y="1862" width="45" height="45" color="#2e7d5a"/><use href="#ch" x="345" y="1917" width="45" height="45" color="#2e7d5a"/>
<rect x="458" y="1850" width="94" height="100" fill="#8fe3c9" stroke="#4aa888" stroke-width="3"/><ellipse cx="505" cy="1850" rx="47" ry="14" fill="#b6f0de" stroke="#4aa888" stroke-width="3"/><ellipse cx="505" cy="1950" rx="47" ry="14" fill="#8fe3c9" stroke="#4aa888" stroke-width="3"/>
<text x="490" y="1923" font-family="Liberation Serif,serif" font-style="italic" font-weight="bold" font-size="48">x</text>
</g>
<g class="k" font-size="30" text-anchor="middle">
<text x="466" y="1680" textLength="271" lengthAdjust="spacingAndGlyphs">Real Glucose Traces</text><text x="466" y="1719">Set B</text>
<text x="466" y="1998" textLength="271" lengthAdjust="spacingAndGlyphs">Real Glucose Traces</text><text x="466" y="2037">Set A</text>
</g>
<rect x="718" y="1471" width="207" height="296" fill="#e47e63" stroke="#b5452a" stroke-width="3"/>
<use href="#nn" x="726" y="1479" width="108" height="108"/><use href="#nn" x="810" y="1551" width="108" height="102"/><use href="#nn" x="726" y="1617" width="108" height="102"/>
<rect x="963" y="1467" width="221" height="203" rx="28" fill="#f8e0dc" stroke="#e4806a" stroke-width="4"/>
<rect x="1034" y="1484" width="80" height="82" fill="#e47e63" stroke="#333" stroke-width="3"/>
<rect x="1465" y="1301" width="70" height="71" rx="8" fill="#e0e4f8" stroke="#4a5adb" stroke-width="3"/>
<rect x="1398" y="1474" width="207" height="166" fill="#f0c040" stroke="#b08a10" stroke-width="3"/>
<use href="#nn" x="1445" y="1482" width="110" height="112"/>
<rect x="1465" y="1689" width="70" height="71" rx="8" fill="#fdf3c8" stroke="#e8c040" stroke-width="3"/>
<rect x="1729" y="1530" width="209" height="164" fill="#c8007a" stroke="#8a0050" stroke-width="3"/>
<use href="#nn" x="1775" y="1537" width="112" height="112"/>
<rect x="2000" y="1466" width="186" height="137" rx="14" fill="#fde6f0" stroke="#c8007a" stroke-width="4"/>
<rect x="2000" y="1638" width="186" height="137" rx="14" fill="#fde6f0" stroke="#c8007a" stroke-width="4"/>
<g stroke-width="3" fill="#fff"><circle cx="2047" cy="1535" r="22" stroke="#7cc070"/><circle cx="2136" cy="1535" r="22" stroke="#e03030"/><circle cx="2047" cy="1707" r="22" stroke="#7cc070"/><circle cx="2136" cy="1707" r="22" stroke="#e03030"/></g>
<g font-family="Liberation Sans,sans-serif" font-size="22" text-anchor="middle"><text x="2047" y="1543" fill="#7cc070">✓</text><text x="2136" y="1543" fill="#e03030">✕</text><text x="2047" y="1715" fill="#7cc070">✓</text><text x="2136" y="1715" fill="#e03030">✕</text></g>
<rect x="721" y="1854" width="207" height="165" fill="#c49ad4" stroke="#8a5aa0" stroke-width="3"/>
<use href="#nn" x="770" y="1862" width="112" height="112"/>
<rect x="987" y="1901" width="70" height="71" rx="8" fill="#efe0f5" stroke="#9060b0" stroke-width="3"/>
<rect x="1398" y="1854" width="207" height="166" fill="#8e4aa0" stroke="#5a2a70" stroke-width="3"/>
<use href="#nn" x="1445" y="1862" width="112" height="112"/>
<rect x="1662" y="1907" width="71" height="73" rx="8" fill="#7a3a90" stroke="#5a2a70" stroke-width="3"/>
<rect x="1871" y="1854" width="301" height="190" fill="#fff" stroke="#e05030" stroke-width="4"/>
<g color="#e07060"><use href="#ch" x="1930" y="1884" width="50" height="40"/><use href="#ch" x="1997" y="1884" width="50" height="40"/><use href="#ch" x="2064" y="1884" width="50" height="40"/><use href="#ch" x="1930" y="1936" width="50" height="40"/><use href="#ch" x="1997" y="1936" width="50" height="40"/><use href="#ch" x="2064" y="1936" width="50" height="40"/></g>
<g class="k" font-size="28" text-anchor="middle">
<text x="821" y="1747">Motif Nets</text>
<text x="1073" y="1601">Aggregate</text><text x="1073" y="1640" textLength="212" lengthAdjust="spacingAndGlyphs">Causality Matrix</text>
<text x="1501" y="1622" textLength="170" lengthAdjust="spacingAndGlyphs">Generator_e</text>
<text x="1833" y="1676" textLength="188" lengthAdjust="spacingAndGlyphs">Discriminator</text>
<text x="2093" y="1495" textLength="168" lengthAdjust="spacingAndGlyphs">Guesses Fake</text>
<text x="2093" y="1666" textLength="168" lengthAdjust="spacingAndGlyphs">Guesses Real</text>
<g font-size="22" font-weight="bold"><text x="2047" y="1580" fill="#7cc070">Real</text><text x="2136" y="1580" fill="#e03030">Fake</text><text x="2047" y="1752" fill="#7cc070">Real</text><text x="2136" y="1752" fill="#e03030">Fake</text></g>
<text x="824" y="2005">Embedder</text>
<text x="1501" y="2005">Recovery</text>
<text x="2025" y="2020" textLength="260" lengthAdjust="spacingAndGlyphs"><tspan font-family="Liberation Serif,serif" font-style="italic" font-weight="bold" font-size="40">x̂</tspan>: Synthetic Traces</text>
</g>
<g font-family="Liberation Serif,serif" font-style="italic" font-weight="bold" text-anchor="middle">
<text x="1500" y="1352" font-size="48" fill="#111">z</text>
<text x="1497" y="1738" font-size="46" fill="#111">x̂<tspan font-size="28" dy="10">e</tspan></text>
<text x="1017" y="1950" font-size="46" fill="#111">x<tspan font-size="28" dy="10">e</tspan></text>
<text x="1697" y="1958" font-size="46" fill="#111">x̃</text>
</g>

<!-- MOTIF CAUSALITY BLOCK -->
<text x="99" y="2183" class="h" font-size="58" textLength="580" lengthAdjust="spacingAndGlyphs">Motif Causality Block</text>
<rect x="358" y="2229" width="1425" height="587" fill="none" stroke="#e0402a" stroke-width="3" stroke-dasharray="5,5"/>
<rect x="87" y="2449" width="253" height="166" fill="#fff" stroke="#5aab8e" stroke-width="4"/>
<use href="#ch" x="105" y="2470" width="30" height="30" color="#2e7d5a"/><use href="#ch" x="105" y="2505" width="30" height="30" color="#2e7d5a"/>
<rect x="150" y="2470" width="55" height="55" fill="#8fe3c9" stroke="#4aa888" stroke-width="3"/><ellipse cx="177" cy="2470" rx="27" ry="8" fill="#b6f0de" stroke="#4aa888" stroke-width="3"/>
<text x="170" y="2508" font-family="Liberation Serif,serif" font-style="italic" font-size="28">x</text>
<g fill="none" stroke="#333" stroke-width="2.5">
<path d="M340,2532H370M370,2425V2754"/>
<path d="M370,2425H415M370,2618H415M370,2754H415" marker-end="url(#ah)"/>
<path d="M609,2425H620M620,2361V2496"/>
<path d="M620,2361H690M620,2496H690M843,2361H894M843,2496H894M990,2420H1025M1169,2420H1234M609,2618H632M1191,2619H1234M609,2754H632M1191,2754H1234M1320,2528H1354M1490,2528H1537" marker-end="url(#ah)"/>
<path d="M943,2361H990V2496H943M1291,2420H1320V2754H1291M1291,2619H1320"/>
</g>
<rect x="417" y="2403" width="192" height="44" rx="6" fill="#7fe0c0" stroke="#4aa888" stroke-width="3"/>
<rect x="417" y="2597" width="192" height="43" rx="6" fill="#7fe0c0" stroke="#4aa888" stroke-width="3"/>
<rect x="417" y="2732" width="192" height="44" rx="6" fill="#7fe0c0" stroke="#4aa888" stroke-width="3"/>
<rect x="634" y="2252" width="557" height="306" fill="#f8e0dc" stroke="#e08070" stroke-width="3"/>
<rect x="634" y="2583" width="557" height="73" fill="#f8e0dc" stroke="#e08070" stroke-width="3"/>
<rect x="634" y="2719" width="557" height="72" fill="#f8e0dc" stroke="#e08070" stroke-width="3"/>
<rect x="692" y="2313" width="151" height="97" fill="#e47e63" stroke="#b5452a" stroke-width="3"/>
<rect x="692" y="2448" width="151" height="96" fill="#e47e63" stroke="#b5452a" stroke-width="3"/>
<use href="#nn" x="737" y="2316" width="62" height="62"/><use href="#nn" x="737" y="2451" width="62" height="62"/>
<rect x="896" y="2316" width="47" height="94" fill="#e47e63" stroke="#b5452a" stroke-width="3"/>
<rect x="896" y="2448" width="47" height="96" fill="#e47e63" stroke="#b5452a" stroke-width="3"/>
<rect x="1027" y="2380" width="142" height="79" fill="#e47e63" stroke="#b5452a" stroke-width="3"/>
<g fill="#e47e63" stroke="#222" stroke-width="3"><rect x="1236" y="2393" width="55" height="56"/><rect x="1236" y="2592" width="55" height="54"/><rect x="1236" y="2727" width="55" height="53"/></g>
<rect x="1356" y="2482" width="134" height="92" fill="#e47e63" stroke="#222" stroke-width="3"/>
<rect x="1539" y="2452" width="199" height="157" rx="22" fill="#f8e0dc" stroke="#e4806a" stroke-width="4"/>
<rect x="1612" y="2469" width="54" height="50" fill="#e47e63" stroke="#222" stroke-width="3"/>
<g fill="#fff" stroke="#111" stroke-width="2"><circle cx="393" cy="2384" r="15"/><circle cx="632" cy="2258" r="15"/><circle cx="1350" cy="2479" r="15"/><circle cx="1535" cy="2452" r="15"/><circle cx="689" cy="2311" r="11"/><circle cx="895" cy="2309" r="11"/><circle cx="1025" cy="2379" r="11"/></g>
<g class="k" text-anchor="middle" font-size="22"><text x="393" y="2392">1</text><text x="632" y="2266">2</text><text x="1350" y="2487">3</text><text x="1535" y="2460">4</text><g font-size="17"><text x="689" y="2317">a</text><text x="895" y="2315">b</text><text x="1025" y="2385">c</text></g></g>
<g class="k" font-size="24" text-anchor="middle">
<text x="513" y="2433" textLength="178" lengthAdjust="spacingAndGlyphs">Data Partition 0</text>
<text x="513" y="2627" textLength="178" lengthAdjust="spacingAndGlyphs">Data Partition 1</text>
<text x="513" y="2763" textLength="178" lengthAdjust="spacingAndGlyphs">Data Partition <tspan font-style="italic" font-family="Liberation Serif,serif">r</tspan></text>
<text x="913" y="2290">Motif Networks 0</text>
<text x="913" y="2627">Motif Networks 1</text>
<text x="913" y="2763">Motif Networks <tspan font-style="italic" font-family="Liberation Serif,serif">r</tspan></text>
<text x="767" y="2403">Motif Net 0</text>
<text x="767" y="2538">Motif Net <tspan font-style="italic" font-family="Liberation Serif,serif">m</tspan></text>
<text x="919" y="2373" font-family="Liberation Serif,serif" font-style="italic">W<tspan font-size="15" dy="-10">0</tspan></text>
<text x="919" y="2506" font-family="Liberation Serif,serif" font-style="italic">W<tspan font-size="15" dy="-10">0</tspan></text>
<text x="1098" y="2414">Stack</text><text x="1098" y="2443">Weights</text>
<text x="1262" y="2384">Matrix 0</text><text x="1262" y="2582">Matrix 1</text><text x="1264" y="2716">Matrix <tspan font-style="italic" font-family="Liberation Serif,serif">r</tspan></text>
<text x="1423" y="2522">Aggregate</text><text x="1423" y="2552">Matrices</text>
<text x="1639" y="2504" font-family="Liberation Serif,serif" font-style="italic">M</text>
<text x="1639" y="2556">Aggregate</text><text x="1639" y="2586" textLength="185" lengthAdjust="spacingAndGlyphs">Causality Matrix</text>
<text x="213" y="2568" font-size="22" textLength="228" lengthAdjust="spacingAndGlyphs">Real Glucose Traces</text><text x="213" y="2598" font-size="22">Set B</text>
<text x="754" y="2433" font-weight="bold">•••</text><text x="512" y="2701" font-weight="bold">•••</text><text x="913" y="2701" font-weight="bold">•••</text>
</g>

<!-- DIFFERENTIAL PRIVACY -->
<text x="1816" y="2221" font-family="Liberation Sans,sans-serif" font-weight="bold" font-size="44" fill="#44546a" textLength="400" lengthAdjust="spacingAndGlyphs">Differential Privacy</text>
<g class="b" font-size="38">
<text x="1830" y="2274" font-size="22">▸</text><text x="1830" y="2429" font-size="22">▸</text><text x="1830" y="2630" font-size="22">▸</text>
<text x="1866" y="2278" textLength="719" lengthAdjust="spacingAndGlyphs">Differential Privacy (DP) is a formal notion of</text>
<text x="1866" y="2326" textLength="723" lengthAdjust="spacingAndGlyphs">privacy that <tspan class="o">bounds the risk to any individual</tspan></text>
<text x="1866" y="2374" textLength="557" lengthAdjust="spacingAndGlyphs"><tspan class="o">who provides data to an algorithm</tspan> [2]</text>
<text x="1866" y="2433" textLength="715" lengthAdjust="spacingAndGlyphs">Training the GAN networks with DP: each of</text>
<text x="1866" y="2481" textLength="586" lengthAdjust="spacingAndGlyphs">the networks (Embedder, Recovery,</text>
<text x="1866" y="2528" textLength="675" lengthAdjust="spacingAndGlyphs">Generator &amp; Discriminator) is trained in a</text>
<text x="1866" y="2576" textLength="750" lengthAdjust="spacingAndGlyphs">differentially private manner using <tspan class="o">DP-SGD</tspan> [3]</text>
<text x="1866" y="2634" textLength="750" lengthAdjust="spacingAndGlyphs">Training the Motif Causality Block with DP: we</text>
<text x="1866" y="2682" textLength="690" lengthAdjust="spacingAndGlyphs">train the block using a <tspan class="o">PATE framework</tspan> [4]</text>
<text x="1866" y="2730" textLength="714" lengthAdjust="spacingAndGlyphs">which allows us to privately aggregate motif</text>
<text x="1866" y="2778" textLength="678" lengthAdjust="spacingAndGlyphs">causal predictions learned from the block</text>
</g>
</svg>
<script>
(function(){
var ns='http://www.w3.org/2000/svg';
function rnd(seed){var s=seed;return function(){s=(s*1103515245+12345)%2147483648;return s/2147483648;};}
var stops=[[0,[3,5,26]],[0.2,[76,29,75]],[0.4,[161,26,91]],[0.6,[232,63,63]],[0.8,[246,156,115]],[1,[250,235,221]]];
function cmap(v){v=Math.max(0,Math.min(1,v));for(var i=1;i<stops.length;i++){if(v<=stops[i][0]){var a=stops[i-1],b=stops[i];var f=(v-a[0])/(b[0]-a[0]);return 'rgb('+a[1].map(function(c,k){return Math.round(c+(b[1][k]-c)*f);}).join(',')+')';}}return 'rgb(250,235,221)';}
var hx=[2855,3098,3339,3579,3819];var g=document.getElementById('hmaps');
hx.forEach(function(x0,p){var r=rnd(p*7919+17);var W=209,H=399,rows=100,cols=36;
for(var i=0;i<rows;i++){var base=0.12+0.38*r();if(r()<0.05)base=0.85;var v=base;for(var j=0;j<cols;j++){v+=(r()-0.5)*0.18;v=v*0.8+base*0.2;var e=document.createElementNS(ns,'rect');e.setAttribute('x',x0+j*W/cols);e.setAttribute('y',2113+i*H/rows);e.setAttribute('width',W/cols+0.6);e.setAttribute('height',H/rows+0.6);e.setAttribute('fill',cmap(v));g.appendChild(e);}}});
var q=document.getElementById('qr');var rq=rnd(4242);var m=9,X=3945,Y=110,N=29;
function R(x,y,w,h,f){var e=document.createElementNS(ns,'rect');e.setAttribute('x',x);e.setAttribute('y',y);e.setAttribute('width',w);e.setAttribute('height',h);e.setAttribute('fill',f);q.appendChild(e);}
R(X,Y,N*m,N*m,'#fff');
for(var i=0;i<N;i++)for(var j=0;j<N;j++){if((i<8&&j<8)||(i<8&&j>N-9)||(i>N-9&&j<8))continue;if(rq()<0.5)R(X+j*m,Y+i*m,m,m,'#000');}
[[0,0],[0,N-7],[N-7,0]].forEach(function(c){var x=X+c[1]*m,y=Y+c[0]*m;R(x,y,7*m,7*m,'#000');R(x+m,y+m,5*m,5*m,'#fff');R(x+2*m,y+2*m,3*m,3*m,'#000');});
})();
</script>
</body></html>
